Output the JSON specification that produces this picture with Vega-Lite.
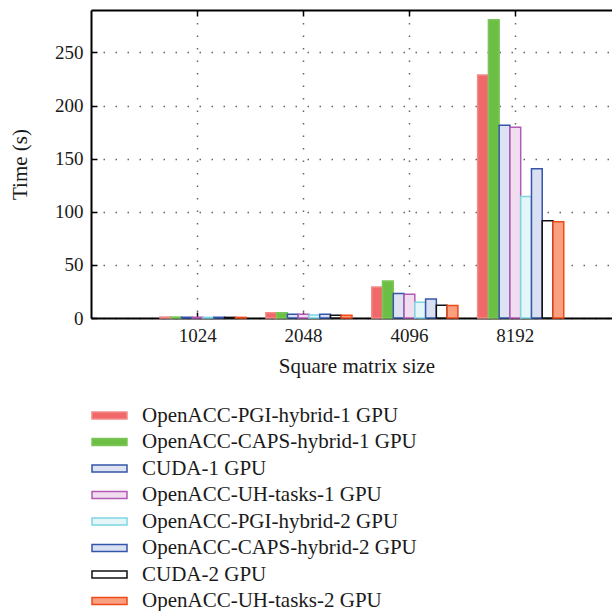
{
  "$schema": "https://vega.github.io/schema/vega-lite/v6.json",
  "width": 521,
  "height": 308,
  "autosize": {"type": "none"},
  "padding": {"left": 91, "top": 10, "right": 0, "bottom": 293},
  "background": "white",
  "config": {
    "font": "Liberation Serif",
    "view": {"stroke": null},
    "axis": {"labelFont": "Liberation Serif", "titleFont": "Liberation Serif", "labelColor": "#1a1a1a", "titleColor": "#1a1a1a", "titleFontWeight": "normal"}
  },
  "data": {
    "values": [
      {"size": "1024", "series": "OpenACC-PGI-hybrid-1 GPU", "time": 0.9},
      {"size": "1024", "series": "OpenACC-CAPS-hybrid-1 GPU", "time": 0.9},
      {"size": "1024", "series": "CUDA-1 GPU", "time": 0.6},
      {"size": "1024", "series": "OpenACC-UH-tasks-1 GPU", "time": 0.6},
      {"size": "1024", "series": "OpenACC-PGI-hybrid-2 GPU", "time": 0.6},
      {"size": "1024", "series": "OpenACC-CAPS-hybrid-2 GPU", "time": 0.7},
      {"size": "1024", "series": "CUDA-2 GPU", "time": 0.6},
      {"size": "1024", "series": "OpenACC-UH-tasks-2 GPU", "time": 0.6},
      {"size": "2048", "series": "OpenACC-PGI-hybrid-1 GPU", "time": 5.0},
      {"size": "2048", "series": "OpenACC-CAPS-hybrid-1 GPU", "time": 5.0},
      {"size": "2048", "series": "CUDA-1 GPU", "time": 3.5},
      {"size": "2048", "series": "OpenACC-UH-tasks-1 GPU", "time": 3.5},
      {"size": "2048", "series": "OpenACC-PGI-hybrid-2 GPU", "time": 2.9},
      {"size": "2048", "series": "OpenACC-CAPS-hybrid-2 GPU", "time": 3.5},
      {"size": "2048", "series": "CUDA-2 GPU", "time": 2.6},
      {"size": "2048", "series": "OpenACC-UH-tasks-2 GPU", "time": 2.6},
      {"size": "4096", "series": "OpenACC-PGI-hybrid-1 GPU", "time": 29.2},
      {"size": "4096", "series": "OpenACC-CAPS-hybrid-1 GPU", "time": 34.8},
      {"size": "4096", "series": "CUDA-1 GPU", "time": 23.0},
      {"size": "4096", "series": "OpenACC-UH-tasks-1 GPU", "time": 22.3},
      {"size": "4096", "series": "OpenACC-PGI-hybrid-2 GPU", "time": 14.8},
      {"size": "4096", "series": "OpenACC-CAPS-hybrid-2 GPU", "time": 17.9},
      {"size": "4096", "series": "CUDA-2 GPU", "time": 12.0},
      {"size": "4096", "series": "OpenACC-UH-tasks-2 GPU", "time": 11.7},
      {"size": "8192", "series": "OpenACC-PGI-hybrid-1 GPU", "time": 228.7},
      {"size": "8192", "series": "OpenACC-CAPS-hybrid-1 GPU", "time": 280.8},
      {"size": "8192", "series": "CUDA-1 GPU", "time": 181.6},
      {"size": "8192", "series": "OpenACC-UH-tasks-1 GPU", "time": 179.7},
      {"size": "8192", "series": "OpenACC-PGI-hybrid-2 GPU", "time": 114.5},
      {"size": "8192", "series": "OpenACC-CAPS-hybrid-2 GPU", "time": 140.6},
      {"size": "8192", "series": "CUDA-2 GPU", "time": 91.6},
      {"size": "8192", "series": "OpenACC-UH-tasks-2 GPU", "time": 90.7}
    ]
  },
  "layer": [
    {
      "mark": {"type": "bar", "strokeWidth": 1.5},
      "encoding": {
        "x": {
          "field": "size", "type": "nominal", "sort": ["1024", "2048", "4096", "8192"],
          "scale": {"range": [0, 531], "paddingInner": 0.085, "paddingOuter": 0.55},
          "axis": {
            "title": "Square matrix size", "titleFontSize": 21, "titlePadding": 10,
            "labelAngle": 0, "labelFontSize": 19, "labelPadding": 14,
            "tickSize": -6, "tickColor": "#000", "tickWidth": 1.5, "bandPosition": 0.5,
            "domainColor": "#000", "domainWidth": 2,
            "grid": true, "gridDash": [1.5, 11], "gridColor": "#666", "gridWidth": 1.5
          }
        },
        "xOffset": {
          "field": "series", "type": "nominal",
          "scale": {
            "domain": [" ", "OpenACC-PGI-hybrid-1 GPU", "OpenACC-CAPS-hybrid-1 GPU", "CUDA-1 GPU", "OpenACC-UH-tasks-1 GPU", "OpenACC-PGI-hybrid-2 GPU", "OpenACC-CAPS-hybrid-2 GPU", "CUDA-2 GPU", "OpenACC-UH-tasks-2 GPU"],
            "paddingInner": 0, "paddingOuter": 0
          }
        },
        "y": {
          "field": "time", "type": "quantitative",
          "scale": {"domain": [0, 290], "nice": false},
          "axis": {
            "title": "Time (s)", "titleFontSize": 21, "titlePadding": 24,
            "values": [0, 50, 100, 150, 200, 250],
            "labelFontSize": 19, "labelPadding": 14,
            "tickSize": -6, "tickColor": "#000", "tickWidth": 1.5,
            "domainColor": "#000", "domainWidth": 2,
            "grid": true, "gridDash": [1.5, 10.5], "gridColor": "#666", "gridWidth": 1.5
          }
        },
        "fill": {
          "field": "series", "type": "nominal",
          "scale": {
            "domain": ["OpenACC-PGI-hybrid-1 GPU", "OpenACC-CAPS-hybrid-1 GPU", "CUDA-1 GPU", "OpenACC-UH-tasks-1 GPU", "OpenACC-PGI-hybrid-2 GPU", "OpenACC-CAPS-hybrid-2 GPU", "CUDA-2 GPU", "OpenACC-UH-tasks-2 GPU"],
            "range": ["#F06868", "#6CBE45", "#DDE3F2", "#F1DDF0", "#E4F6F8", "#D8E0F2", "#FFFFFF", "#F8A080"]
          },
          "legend": {
            "orient": "none", "legendX": 8, "legendY": 395, "title": null, "direction": "vertical",
            "symbolType": "M-2.5,-0.5H2.5V0.5H-2.5Z", "symbolSize": 196, "symbolStrokeWidth": 1.5,
            "labelFont": "Liberation Serif", "labelFontSize": 21, "labelColor": "#1a1a1a",
            "labelOffset": 22, "labelLimit": 0, "rowPadding": 4.5, "padding": 0
          }
        },
        "stroke": {
          "field": "series", "type": "nominal",
          "scale": {
            "domain": ["OpenACC-PGI-hybrid-1 GPU", "OpenACC-CAPS-hybrid-1 GPU", "CUDA-1 GPU", "OpenACC-UH-tasks-1 GPU", "OpenACC-PGI-hybrid-2 GPU", "OpenACC-CAPS-hybrid-2 GPU", "CUDA-2 GPU", "OpenACC-UH-tasks-2 GPU"],
            "range": ["#F28A8A", "#7CC65A", "#3555A8", "#B25BB5", "#7FD6DF", "#3555A8", "#111111", "#F04A1A"]
          },
          "legend": {
            "orient": "none", "legendX": 8, "legendY": 395, "title": null, "direction": "vertical",
            "symbolType": "M-2.5,-0.5H2.5V0.5H-2.5Z", "symbolSize": 196, "symbolStrokeWidth": 1.5,
            "labelFont": "Liberation Serif", "labelFontSize": 21, "labelColor": "#1a1a1a",
            "labelOffset": 22, "labelLimit": 0, "rowPadding": 4.5, "padding": 0
          }
        }
      }
    },
    {
      "mark": {"type": "bar", "opacity": 0},
      "encoding": {
        "x": {
          "field": "size", "type": "nominal", "sort": ["1024", "2048", "4096", "8192"],
          "axis": {
            "orient": "top", "title": null, "labels": false, "bandPosition": 0.5,
            "tickSize": -6, "tickColor": "#000", "tickWidth": 1.5,
            "domainColor": "#000", "domainWidth": 2, "grid": false
          }
        },
        "y": {"field": "time", "type": "quantitative"}
      }
    }
  ],
  "resolve": {"axis": {"x": "independent"}}
}
